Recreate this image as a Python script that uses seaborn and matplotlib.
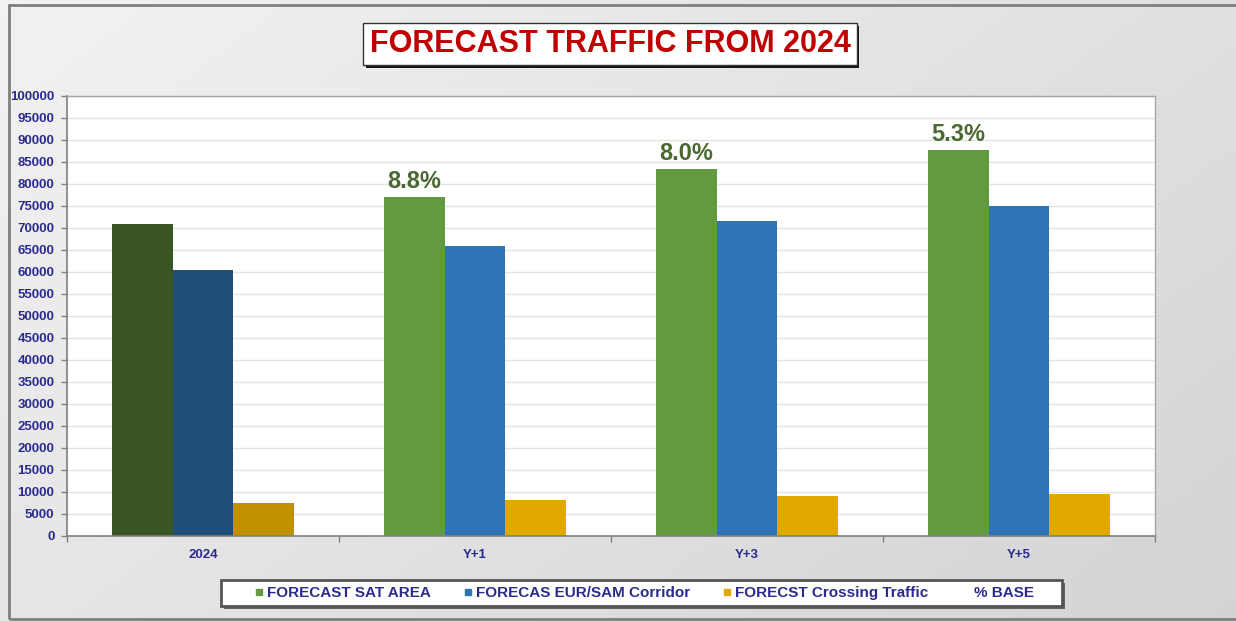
import numpy as np
import pandas as pd
import matplotlib
matplotlib.use('Agg')
import matplotlib.pyplot as plt
from matplotlib.lines import Line2D
from matplotlib.patches import Rectangle
import matplotlib.patheffects as pe
import seaborn as sns

# values
periods = ['2024', 'Y+1', 'Y+3', 'Y+5']
series = ['FORECAST SAT AREA', 'FORECAS EUR/SAM Corridor', 'FORECST Crossing Traffic']
sat_area = [70800, 77100, 83300, 87700]
eur_sam = [60500, 66000, 71500, 75100]
crossing = [7600, 8250, 9000, 9450]
growth = ['', '8.8%', '8.0%', '5.3%']

colors = ['#629B3E', '#2E75B6', '#E1A800']
base_colors = ['#3A5524', '#1F4E78', '#BF9000']
navy = '#2B2B8F'

sns.set_theme(style='white')
plt.rcParams['font.family'] = ['Liberation Sans', 'DejaVu Sans']

df = pd.DataFrame({
  'period': periods * 3,
  'series': [s for s in series for _ in periods],
  'value': sat_area + eur_sam + crossing,
})

W, H = 1236, 621
fig = plt.figure(figsize=(W / 100, H / 100), dpi=100)

# grey gradient background
bg = fig.add_axes([0, 0, 1, 1], zorder=-10)
xx, yy = np.meshgrid(np.linspace(0, 1, 300), np.linspace(0, 1, 150))
grey = 0.95 - 0.12 * (0.6 * xx + 0.4 * yy)
bg.imshow(np.dstack([grey] * 3), extent=[0, 1, 0, 1], aspect='auto', origin='upper')
bg.axis('off')

ax = fig.add_axes([67 / W, 85 / H, 1088 / W, 440 / H])
ax.set_facecolor('white')
sns.barplot(data=df, x='period', y='value', hue='series', palette=colors,
            width=0.667, saturation=1, legend=False, linewidth=0, ax=ax)

# darker shades for the base year
for cont, c in zip(ax.containers, base_colors):
  cont[0].set_facecolor(c)

# growth labels above green bars
for bar, lab in zip(ax.containers[0], growth):
  if lab:
    ax.annotate(lab, (bar.get_x() + bar.get_width() / 2, bar.get_height()),
                xytext=(0, 3), textcoords='offset points', ha='center', va='bottom',
                fontsize=17, fontweight='bold', color='#4A6830')

ax.set_xlim(-0.5, 3.5)
ax.set_ylim(0, 100000)
ax.set_yticks(range(0, 100001, 5000))
ax.set_xlabel('')
ax.set_ylabel('')
ax.yaxis.grid(True, color='#E3E3E3', linewidth=1)
ax.set_axisbelow(True)

ax.tick_params(axis='y', left=True, length=4, width=1, color='#808080',
               labelcolor=navy, labelsize=9.5, pad=5)
ax.set_xticks([-0.5, 0.5, 1.5, 2.5, 3.5], minor=True)
ax.tick_params(axis='x', which='minor', bottom=True, length=4, color='#808080')
ax.tick_params(axis='x', which='major', bottom=False, length=0,
               labelcolor=navy, labelsize=9.5, pad=9)
for t in ax.get_yticklabels() + ax.get_xticklabels():
  t.set_fontweight('bold')

for s in ['left', 'bottom']:
  ax.spines[s].set_color('#7F7F7F')
  ax.spines[s].set_linewidth(1.2)
for s in ['top', 'right']:
  ax.spines[s].set_color('#A6A6A6')
  ax.spines[s].set_linewidth(1)

# title in a boxed frame with shadow
title = fig.text(610 / W, 1 - 44 / H, 'FORECAST TRAFFIC FROM 2024', ha='center', va='center',
                 fontsize=22, fontweight='bold', color='#C00000',
                 bbox=dict(boxstyle='square,pad=0.2', fc='white', ec='#333333', lw=1))
title.get_bbox_patch().set_path_effects([
  pe.SimplePatchShadow(offset=(2, -2), shadow_rgbFace='black', alpha=0.9), pe.Normal()])

# legend frame drawn by hand so it can be wider than its contents
frame = Rectangle((221 / W, 1 - 606 / H), 841 / W, 26 / H, transform=fig.transFigure,
                  fc='white', ec='#555555', lw=2, zorder=2)
frame.set_path_effects([pe.SimplePatchShadow(offset=(2, -2), shadow_rgbFace='#444444', alpha=0.8),
                        pe.Normal()])
fig.patches.append(frame)

handles = [Line2D([], [], marker='s', linestyle='none', markersize=5,
                  markerfacecolor=c, markeredgecolor=c) for c in colors]
handles.append(Line2D([], [], marker='s', linestyle='none', markersize=5,
                      markerfacecolor='none', markeredgecolor='none'))
labels = series + ['% BASE']
leg = fig.legend(handles, labels, loc='center', bbox_to_anchor=(644 / W, 1 - 593 / H),
                 ncol=4, frameon=False, prop={'weight': 'bold', 'size': 11},
                 labelcolor=navy, handlelength=0.6, handletextpad=0.22,
                 columnspacing=2.15, borderpad=0.2)
leg.set_zorder(3)

# outer chart border
fig.patches.append(Rectangle((9 / W, 2 / H), 1.0, 1 - 7 / H, transform=fig.transFigure,
                             fill=False, ec='#7F7F7F', lw=2, zorder=-5))

fig.savefig('out.png', dpi=100)
